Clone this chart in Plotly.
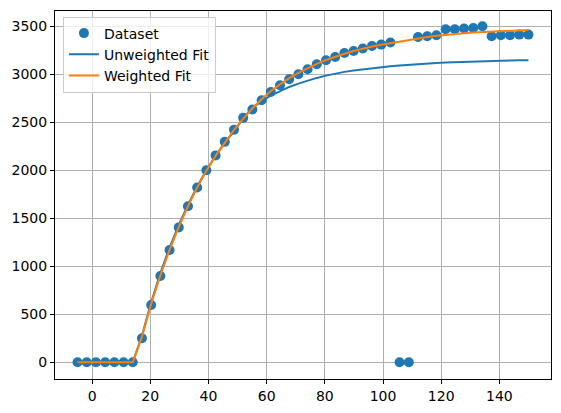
import plotly.graph_objects as go

x_vals = [-5.0, -1.84, 1.33, 4.49, 7.65, 10.82, 13.98, 17.14, 20.31, 23.47,
          26.63, 29.8, 32.96, 36.12, 39.29, 42.45, 45.61, 48.78, 51.94, 55.1,
          58.27, 61.43, 64.59, 67.76, 70.92, 74.08, 77.24, 80.41, 83.57, 86.73,
          89.9, 93.06, 96.22, 99.39, 102.55, 105.71, 108.88, 112.04, 115.2, 118.37,
          121.53, 124.69, 127.86, 131.02, 134.18, 137.35, 140.51, 143.67, 146.84, 150.0]

data_y = [0, 0, 0, 0, 0, 0, 0, 250, 596, 898,
          1169, 1405, 1625, 1821, 2001, 2155, 2296, 2422, 2546, 2633,
          2730, 2816, 2886, 2948, 3000, 3052, 3104, 3146, 3180, 3222,
          3243, 3268, 3295, 3309, 3330, 0, 0, 3388, 3396, 3406,
          3469, 3469, 3476, 3482, 3500, 3396, 3406, 3406, 3413, 3413]

unweighted_y = [0, 0, 0, 0, 0, 0, 0, 275, 625, 930,
                1195, 1430, 1640, 1830, 2000, 2150, 2285, 2405, 2540, 2650,
                2720, 2778, 2825, 2868, 2903, 2935, 2962, 2986, 3007, 3025,
                3040, 3053, 3065, 3075, 3084, 3092, 3100, 3107, 3113, 3118,
                3122, 3126, 3130, 3133, 3136, 3139, 3141, 3143, 3145, 3147]

weighted_y = [0, 0, 0, 0, 0, 0, 0, 265, 610, 905,
              1170, 1410, 1625, 1820, 1995, 2150, 2290, 2420, 2535, 2645,
              2740, 2825, 2895, 2960, 3015, 3065, 3108, 3148, 3183, 3214,
              3242, 3267, 3289, 3308, 3325, 3340, 3358, 3374, 3388, 3400,
              3411, 3420, 3428, 3435, 3441, 3446, 3450, 3454, 3457, 3460]

x_ticks = [0, 20, 40, 60, 80, 100, 120, 140]
y_ticks = [0, 500, 1000, 1500, 2000, 2500, 3000, 3500]

fig = go.Figure()
fig.add_trace(go.Scatter(x=x_vals, y=data_y, mode="markers", name="Dataset",
                         marker=dict(color="#1f77b4", size=10, line=dict(width=0))))
fig.add_trace(go.Scatter(x=x_vals, y=unweighted_y, mode="lines", name="Unweighted Fit",
                         line=dict(color="#1f77b4", width=2)))
fig.add_trace(go.Scatter(x=x_vals, y=weighted_y, mode="lines", name="Weighted Fit",
                         line=dict(color="#ff7f0e", width=2)))

axis_common = dict(showline=True, linecolor="black", linewidth=1, mirror=True,
                   ticks="outside", ticklen=4, tickcolor="black", tickwidth=1,
                   showgrid=True, gridcolor="#b0b0b0", gridwidth=0.8,
                   zeroline=False, tickfont=dict(family="DejaVu Sans", size=14, color="black"))

fig.update_layout(
    width=561, height=413,
    margin=dict(l=55, r=10, t=11, b=34),
    paper_bgcolor="white", plot_bgcolor="white",
    xaxis=dict(range=[-12.75, 157.75], tickvals=x_ticks, **axis_common),
    yaxis=dict(range=[-174.3, 3659], tickvals=y_ticks, **axis_common),
    legend=dict(x=0.016, y=0.985, xanchor="left", yanchor="top",
                bgcolor="rgba(255,255,255,0.8)", bordercolor="#cccccc", borderwidth=1,
                font=dict(family="DejaVu Sans", size=14, color="black"),
                tracegroupgap=0, itemwidth=30),
    showlegend=True,
    font=dict(family="DejaVu Sans"),
)

fig.write_html("out.html")
